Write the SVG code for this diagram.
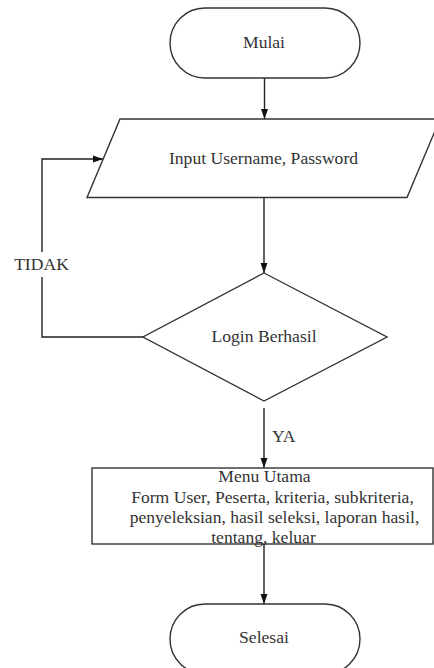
<svg xmlns="http://www.w3.org/2000/svg" width="434" height="668" viewBox="0 0 434 668">
<style>
.shape{fill:#ffffff;stroke:#333333;stroke-width:1.4}
.line{fill:none;stroke:#222222;stroke-width:1.4}
text{font-family:"Liberation Serif","Times New Roman",serif;font-size:17.6px;fill:#333333}
.c{text-anchor:middle}
</style>
<defs>
<marker id="arr" viewBox="0 0 10 10" refX="10" refY="5" markerWidth="10" markerHeight="10" markerUnits="userSpaceOnUse" orient="auto">
<path d="M0,1.5 L10,5 L0,8.5 Z" fill="#111111"/>
</marker>
</defs>
<rect width="434" height="668" fill="#ffffff"/>
<g id="connectors">
<path class="line" d="M264.5,78 V119" marker-end="url(#arr)"/>
<path class="line" d="M264,197.5 V273" marker-end="url(#arr)"/>
<path class="line" d="M143,337 H42 V277"/>
<path class="line" d="M42,252 V159 H103" marker-end="url(#arr)"/>
<path class="line" d="M264,408 V468" marker-end="url(#arr)"/>
<path class="line" d="M264,544 V604" marker-end="url(#arr)"/>
<text x="41.5" y="270" class="c">TIDAK</text>
<text x="272" y="442">YA</text>
</g>
<g id="mulai">
<rect class="shape" x="170" y="8" width="190" height="70" rx="35" ry="35"/>
<text x="264" y="48" class="c">Mulai</text>
</g>
<g id="input">
<polygon class="shape" points="120,119 440,119 407,197.5 87,197.5"/>
<text x="263.5" y="164" class="c">Input Username, Password</text>
</g>
<g id="login">
<polygon class="shape" points="264,273 387,337 264,401 143,337"/>
<text x="264" y="342" class="c">Login Berhasil</text>
</g>
<g id="menu">
<rect class="shape" x="92" y="468" width="341" height="76"/>
<text x="264.5" y="482" class="c">Menu Utama</text>
<text x="272.5" y="502.5" class="c">Form User, Peserta, kriteria, subkriteria,</text>
<text x="274.5" y="523" class="c">penyeleksian, hasil seleksi, laporan hasil,</text>
<text x="263.5" y="543" class="c">tentang, keluar</text>
</g>
<g id="selesai">
<rect class="shape" x="170" y="604" width="190" height="70" rx="35" ry="35"/>
<text x="264" y="643" class="c">Selesai</text>
</g>
</svg>
